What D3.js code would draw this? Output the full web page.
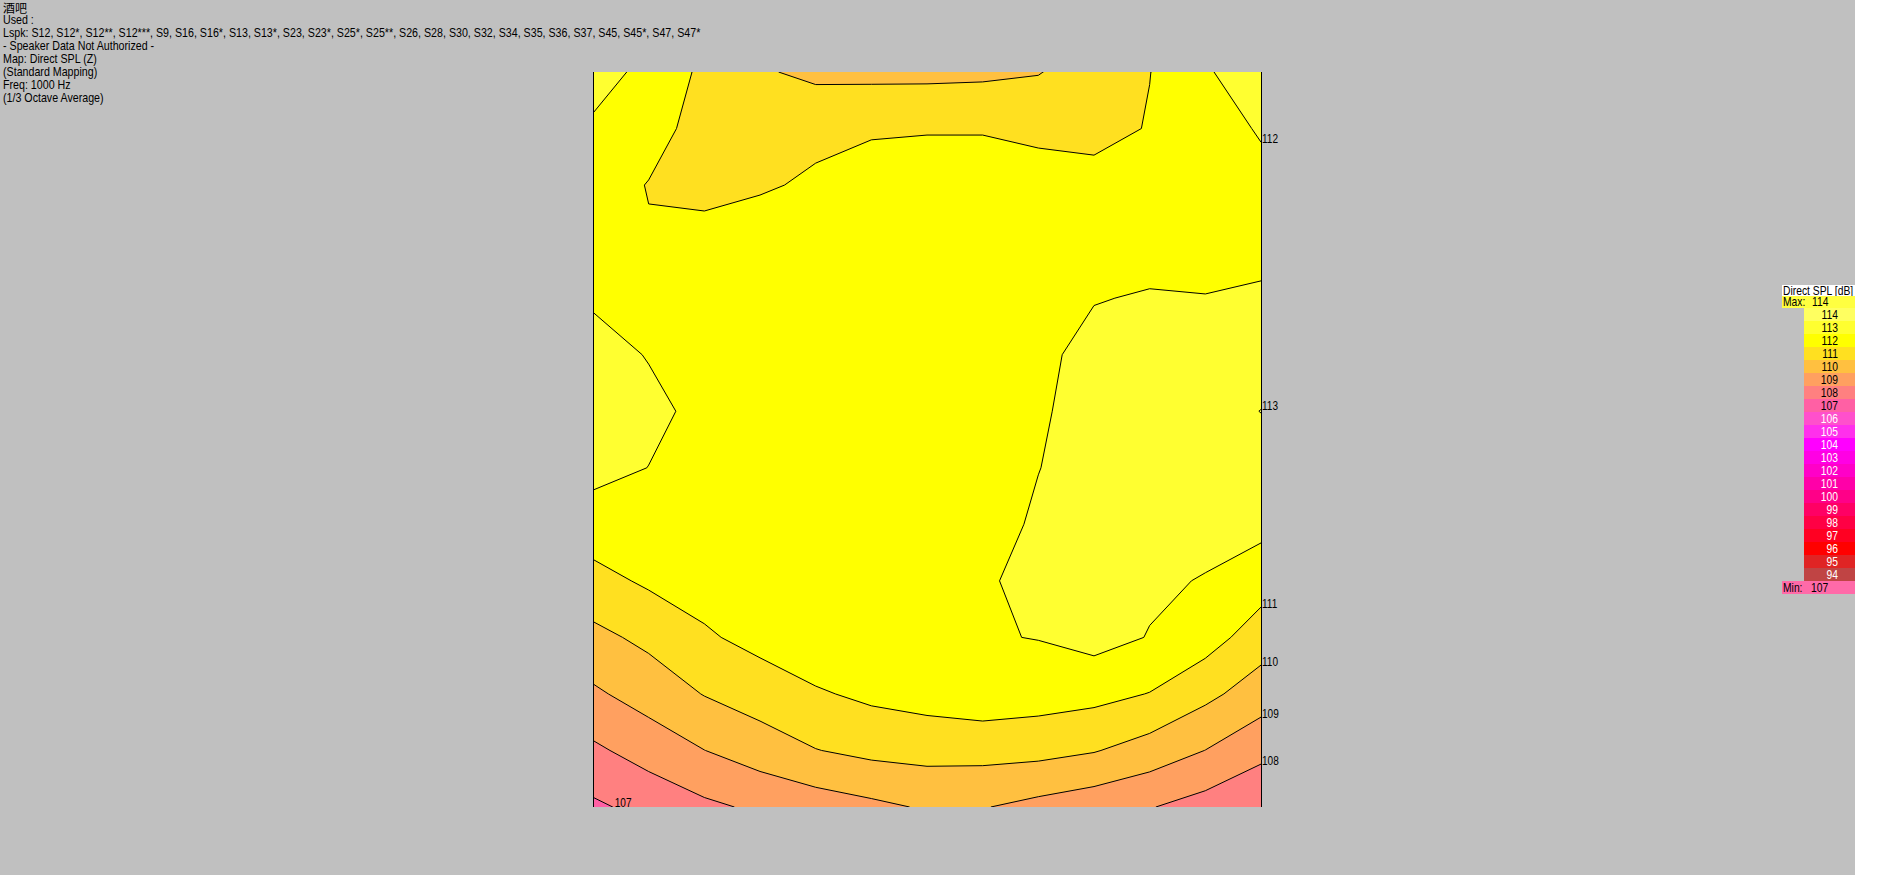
<!DOCTYPE html>
<html><head><meta charset="utf-8">
<script src="https://cdn.jsdelivr.net/npm/d3@7"></script>
<style>
body{margin:0;background:#c0c0c0;overflow:hidden}
text{font-family:"Liberation Sans",Arial,sans-serif;}
</style>
</head><body>
<svg id="chart" width="1892" height="875"></svg>
<script>
// ---------- data ----------
const roomName = "酒吧";
const infoLines = [
  "Used :",
  "Lspk: S12, S12*, S12**, S12***, S9, S16, S16*, S13, S13*, S23, S23*, S25*, S25**, S26, S28, S30, S32, S34, S35, S36, S37, S45, S45*, S47, S47*",
  "- Speaker Data Not Authorized -",
  "Map: Direct SPL (Z)",
  "(Standard Mapping)",
  "Freq: 1000 Hz",
  "(1/3 Octave Average)"
];
const thresholds = [107, 108, 109, 110, 111, 112, 113];
const bandColors = ["#FF60A4", "#FF8080", "#FFA060", "#FFC040", "#FFE020", "#FFFF00", "#FFFF30", "#FFFF60"];
const legendTitle = "Direct SPL [dB]";
const legendLabels = [114, 113, 112, 111, 110, 109, 108, 107, 106, 105, 104, 103, 102, 101, 100, 99, 98, 97, 96, 95, 94];
const legendColors = ["#FFFF60", "#FFFF30", "#FFFF00", "#FFE020", "#FFC040", "#FFA060", "#FF8080", "#FF60A4",
  "#FF50CC", "#FF30EC", "#FF00FF", "#FF00E4", "#FF00C8", "#FF00A8", "#FF0088", "#FF0064", "#FF0044", "#FF0022",
  "#FF0000", "#E02424", "#C04444"];
const maxValue = 114, minValue = 107;
const maxColor = "#FFFF40", minColor = "#FF6AA8";

// SPL grid, rows top -> bottom, columns left -> right (dB)
const splRow00 = [112.4, 111.74, 110.79, 110.1, 109.8, 109.75, 109.75, 109.8, 109.95, 110.54, 110.98, 111.9, 112.54];
const splRow01 = [111.85, 111.5, 110.5, 110.6, 110.7, 110.9, 110.94, 110.94, 110.8, 110.6, 111.07, 111.7, 112.06];
const splRow02 = [111.6, 110.95, 110.5, 110.85, 111.19, 111.4, 111.46, 111.46, 111.38, 111.45, 111.6, 111.7, 111.81];
const splRow03 = [111.7, 111.1, 111.59, 111.7, 111.7, 111.75, 111.75, 111.75, 111.7, 111.7, 111.75, 111.75, 111.75];
const splRow04 = [111.9, 111.8, 111.75, 111.8, 111.85, 111.85, 111.85, 111.85, 111.85, 111.97, 112.05, 112.02, 112.11];
const splRow05 = [112.3, 111.96, 111.8, 111.85, 111.88, 111.9, 111.9, 111.9, 111.85, 112.2, 112.4, 112.55, 112.7];
const splRow06 = [112.4, 112.2, 111.79, 111.85, 111.9, 111.9, 111.9, 111.9, 111.93, 112.21, 112.45, 112.75, 113.01];
const splRow07 = [112.3, 111.99, 111.85, 111.9, 111.92, 111.93, 111.93, 111.93, 111.99, 112.2, 112.4, 112.55, 112.7];
const splRow08 = [111.54, 111.6, 111.7, 111.8, 111.85, 111.9, 111.9, 111.8, 112.07, 112.25, 112.3, 112.3, 112.27];
const splRow09 = [110.67, 111.15, 111.41, 111.6, 111.75, 111.85, 111.9, 111.9, 112.23, 112.3, 112.15, 111.95, 111.45];
const splRow10 = [109.74, 110.23, 110.87, 111.3, 111.68, 111.8, 111.9, 111.93, 112.03, 112.34, 111.96, 111.44, 110.48];
const splRow11 = [108.84, 109.42, 110.04, 110.47, 110.89, 111.2, 111.4, 111.6, 111.45, 111.3, 110.97, 110.25, 109.5];
const splRow12 = [107.82, 108.41, 108.99, 109.49, 109.97, 110.25, 110.35, 110.35, 110.3, 110.06, 109.58, 108.99, 108.28];
const splRow13 = [106.83, 107.31, 107.8, 108.17, 108.48, 108.78, 109.1, 109.05, 108.71, 108.4, 108.05, 107.6, 107.12];

// ---------- layout ----------
const W = 1892, H = 875;
const plot = {left: 593, right: 1261, top: 72, bottom: 807};
const legend = {x: 1782, cellX: 1804, right: 1855, top: 285, titleH: 11, maxH: 12, rowH: 13, numRight: 1838};
const NARROW = 0.84;

const svg = d3.select("#chart");
svg.append("rect").attr("width", W).attr("height", H).attr("fill", "#c0c0c0");
svg.append("rect").attr("x", legend.right).attr("width", W - legend.right).attr("height", H).attr("fill", "#ffffff");

function narrowText(parent, str, x, yb, opts = {}) {
  return parent.append("text")
    .attr("transform", `translate(${x},${yb}) scale(${opts.sx || NARROW},1)`)
    .attr("font-size", opts.size || 12)
    .attr("text-anchor", opts.anchor || "start")
    .attr("fill", opts.fill || "#000")
    .text(str);
}

// ---------- contour map ----------
const grid = [splRow00, splRow01, splRow02, splRow03, splRow04, splRow05, splRow06,
              splRow07, splRow08, splRow09, splRow10, splRow11, splRow12, splRow13];
const nx = grid[0].length, ny = grid.length;
const values = grid.flat();
const xs = d3.scaleLinear().domain([0.5, nx - 0.5]).range([plot.left, plot.right]);
const ys = d3.scaleLinear().domain([0.5, ny - 0.5]).range([plot.top, plot.bottom]);
const bands = d3.contours().size([nx, ny]).thresholds(thresholds)(values);
const path = d3.geoPath(d3.geoTransform({point(px, py) { this.stream.point(xs(px), ys(py)); }}));

svg.append("defs").append("clipPath").attr("id", "plotClip")
  .append("rect").attr("x", plot.left).attr("y", plot.top)
  .attr("width", plot.right - plot.left).attr("height", plot.bottom - plot.top);

const gMap = svg.append("g").attr("clip-path", "url(#plotClip)");
gMap.append("rect").attr("x", plot.left).attr("y", plot.top)
  .attr("width", plot.right - plot.left).attr("height", plot.bottom - plot.top)
  .attr("fill", bandColors[0]);
gMap.selectAll("path.band").data(bands).join("path").attr("class", "band")
  .attr("d", path).attr("fill", (d, i) => bandColors[i + 1]).attr("stroke", "none");
gMap.selectAll("path.iso").data(bands).join("path").attr("class", "iso")
  .attr("d", path).attr("fill", "none").attr("stroke", "#000").attr("stroke-width", 1);

// side borders
[plot.left, plot.right].forEach(xv => {
  svg.append("line").attr("x1", xv + 0.5).attr("x2", xv + 0.5)
    .attr("y1", plot.top).attr("y2", plot.bottom)
    .attr("stroke", "#000").attr("stroke-width", 1);
});

// ---------- contour labels (right edge first, else bottom edge) ----------
const gLab = svg.append("g");
thresholds.forEach(t => {
  const col = grid.map(r => r[nx - 1]);
  for (let r = 0; r < ny - 1; r++) {
    const a = col[r], b = col[r + 1];
    if ((a - t) * (b - t) < 0) {
      const yy = ys(r + 0.5 + (t - a) / (b - a));
      narrowText(gLab, String(t), plot.right + 1, yy + 1);
      return;
    }
  }
  const row = grid[ny - 1];
  for (let c = 0; c < nx - 1; c++) {
    const a = row[c], b = row[c + 1];
    if ((a - t) * (b - t) < 0) {
      const xx = xs(c + 0.5 + (t - a) / (b - a));
      narrowText(gLab, String(t), xx + 2, plot.bottom);
      return;
    }
  }
});

// ---------- header text ----------
const gInfo = svg.append("g");
gInfo.append("text").attr("x", 3).attr("y", 13).attr("font-size", 12)
  .style("font-family", "'Noto Sans CJK SC', sans-serif").text(roomName);
infoLines.forEach((s, i) => narrowText(gInfo, s, 3, 24 + 13 * i, {sx: 0.89}));

// ---------- legend ----------
const gL = svg.append("g");
const lw = legend.right - legend.x;
gL.append("rect").attr("x", legend.x).attr("y", legend.top).attr("width", lw).attr("height", legend.titleH).attr("fill", "#fff");
narrowText(gL, legendTitle, legend.x + 1, legend.top + 9.5, {sx: 0.86});
const maxY = legend.top + legend.titleH;
gL.append("rect").attr("x", legend.x).attr("y", maxY).attr("width", lw).attr("height", legend.maxH).attr("fill", maxColor);
narrowText(gL, "Max:", legend.x + 1, maxY + 10, {sx: 0.86});
narrowText(gL, String(maxValue), legend.x + 30, maxY + 10, {sx: 0.86});
const cellsY = maxY + legend.maxH;
legendLabels.forEach((lab, i) => {
  const yy = cellsY + i * legend.rowH;
  gL.append("rect").attr("x", legend.cellX).attr("y", yy).attr("width", legend.right - legend.cellX)
    .attr("height", legend.rowH).attr("fill", legendColors[i]);
  narrowText(gL, String(lab), legend.numRight, yy + 11, {anchor: "end", fill: lab >= minValue ? "#000" : "#fff", sx: 0.86});
});
const minY = cellsY + legendLabels.length * legend.rowH;
gL.append("rect").attr("x", legend.x).attr("y", minY).attr("width", lw).attr("height", legend.rowH).attr("fill", minColor);
narrowText(gL, "Min:", legend.x + 1, minY + 11, {sx: 0.86});
narrowText(gL, String(minValue), legend.x + 29, minY + 11, {sx: 0.86});
</script>
</body></html>
